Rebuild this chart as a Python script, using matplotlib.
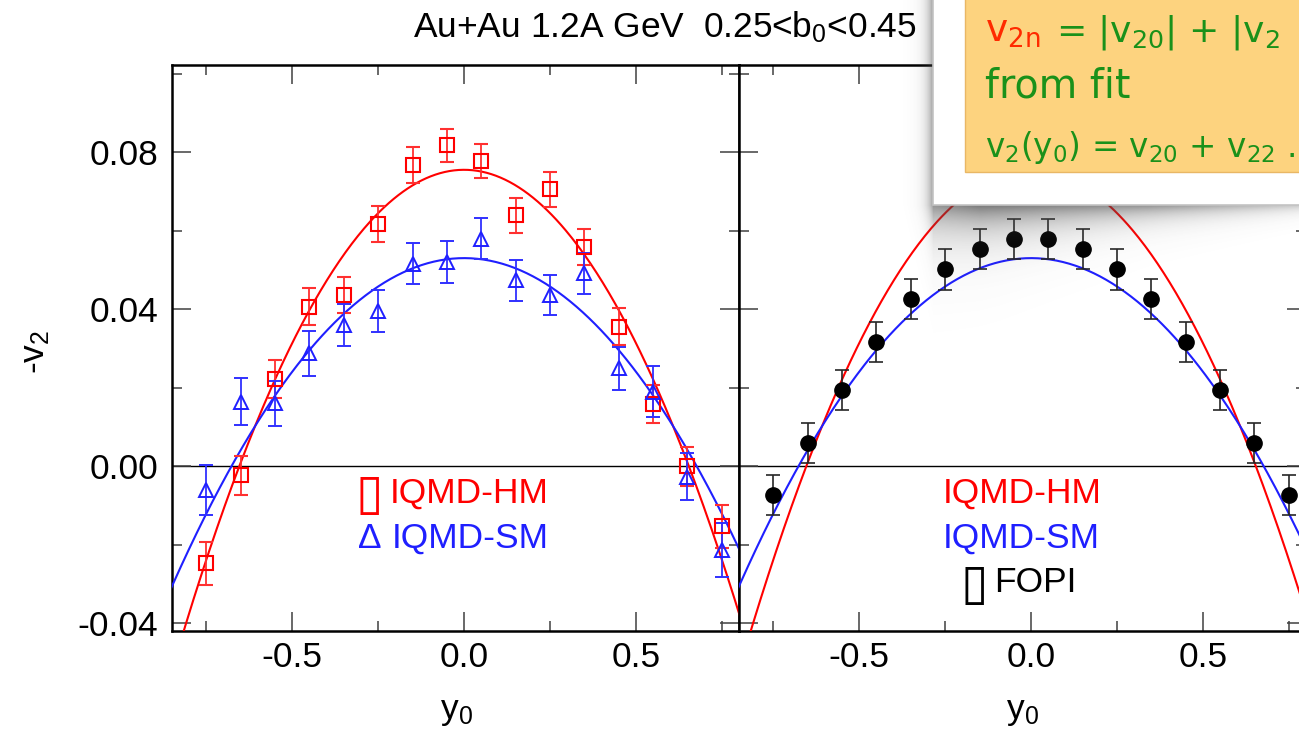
import numpy as np
import matplotlib
matplotlib.use("Agg")
from matplotlib import pyplot as plt
from matplotlib.patches import Rectangle
from matplotlib.ticker import FixedLocator

plt.rcParams['font.family'] = ['Liberation Sans', 'DejaVu Sans']
plt.rcParams['mathtext.default'] = 'regular'

# rapidity bins (y0) and -v2 values
y0 = [-0.75, -0.65, -0.55, -0.45, -0.35, -0.25, -0.15, -0.05,
      0.05, 0.15, 0.25, 0.35, 0.45, 0.55, 0.65, 0.75]

hm_v2 = [-0.0248, -0.0023, 0.0222, 0.0406, 0.0436, 0.0617, 0.0767, 0.0817,
         0.0777, 0.0639, 0.0705, 0.0558, 0.0355, 0.0158, 0.0000, -0.0153]
hm_err = [0.0055, 0.0050, 0.0048, 0.0047, 0.0046, 0.0045, 0.0045, 0.0043,
          0.0044, 0.0045, 0.0045, 0.0046, 0.0047, 0.0048, 0.0050, 0.0055]

sm_v2 = [-0.0061, 0.0164, 0.0160, 0.0287, 0.0359, 0.0396, 0.0516, 0.0520,
         0.0579, 0.0474, 0.0436, 0.0491, 0.0249, 0.0189, -0.0027, -0.0214]
sm_err = [0.0064, 0.0060, 0.0058, 0.0057, 0.0054, 0.0053, 0.0053, 0.0053,
          0.0052, 0.0052, 0.0051, 0.0052, 0.0055, 0.0065, 0.0060, 0.0068]

fopi_v2 = [-0.0074, 0.0060, 0.0194, 0.0317, 0.0426, 0.0501, 0.0552, 0.0579,
           0.0579, 0.0552, 0.0501, 0.0426, 0.0317, 0.0194, 0.0060, -0.0074]
fopi_err = [0.0051] * 16

# fit coefficients: v2(y0) = v20 + v22 * y0^2
hm_fit = [0.0755, -0.1765]
sm_fit = [0.0530, -0.1157]

y_major = [-0.04, 0.00, 0.04, 0.08]
y_minor = [-0.02, 0.02, 0.06, 0.10]
x_major = [-0.5, 0.0, 0.5]
x_minor = [-0.75, -0.25, 0.25, 0.75]

RED = '#ff0000'
BLUE = '#1f1fff'
GREEN = '#1a911a'
FS = 25.5

W, H = 1299, 736
fig = plt.figure(figsize=(W / 100, H / 100), dpi=100)


def px(x, y):
    return x / W, 1 - y / H


ax_l = fig.add_axes([172 / W, (H - 631) / H, 567 / W, 566 / H])
ax_r = fig.add_axes([739 / W, (H - 631) / H, 567 / W, 566 / H])

yy = np.linspace(-0.9, 0.9, 400)
for ax in (ax_l, ax_r):
    ax.set_xlim(-0.85, 0.80)
    ax.set_ylim(-0.0420, 0.1022)
    ax.axhline(0, color='black', lw=1.0, zorder=1)
    ax.plot(yy, hm_fit[0] + hm_fit[1] * yy ** 2, color=RED, lw=1.5, zorder=3)
    ax.plot(yy, sm_fit[0] + sm_fit[1] * yy ** 2, color=BLUE, lw=1.5, zorder=3)

    ax.set_xticks(x_major)
    ax.set_xticklabels(['%.1f' % v for v in x_major])
    ax.xaxis.set_minor_locator(FixedLocator(x_minor))
    ax.set_yticks(y_major)
    ax.set_yticklabels(['%.2f' % v for v in y_major])
    ax.yaxis.set_minor_locator(FixedLocator(y_minor))
    ax.tick_params(which='both', direction='in', top=True, right=True,
                   color='0.25', width=1.1, labelsize=FS)
    ax.tick_params(which='major', length=13.5)
    ax.tick_params(which='minor', length=7)
    ax.tick_params(axis='x', pad=7)
    ax.tick_params(axis='y', pad=10)
    for s in ax.spines.values():
        s.set_linewidth(1.8)

ax_r.tick_params(labelleft=False)

# IQMD points
ax_l.errorbar(y0, hm_v2, yerr=hm_err, fmt='s', ms=9.5, mfc='none', mec=RED,
              mew=1.5, ecolor='#ff3030', elinewidth=1.3, capsize=5,
              capthick=1.3, zorder=4)
ax_l.errorbar(y0, sm_v2, yerr=sm_err, fmt='^', ms=10.5, mfc='none', mec=BLUE,
              mew=1.4, ecolor='#3030ff', elinewidth=1.3, capsize=5,
              capthick=1.3, zorder=4)

# FOPI data
ax_r.errorbar(y0, fopi_v2, yerr=fopi_err, fmt='o', ms=11, mfc='black',
              mec='black', ecolor='0.15', elinewidth=1.2, capsize=5,
              capthick=1.2, zorder=4)

# labels
fig.text(*px(413, 27), 'Au+Au 1.2A GeV  0.25<b$_0$<0.45', fontsize=FS,
         ha='left', va='center')
fig.text(*px(35, 352), '-v$_2$', fontsize=FS, rotation=90,
         ha='center', va='center')
fig.text(*px(456, 712), 'y$_0$', fontsize=FS, ha='center', va='center')
fig.text(*px(1022, 712), 'y$_0$', fontsize=FS, ha='center', va='center')

box_kw = dict(fontsize=36, family='DejaVu Sans', ha='center', va='center')
fig.text(*px(369, 495), '\u25af', color=RED, **box_kw)
fig.text(*px(390, 493), 'IQMD-HM', fontsize=FS, color=RED,
         ha='left', va='center')
fig.text(*px(358, 538), '\u0394', fontsize=FS, color=BLUE,
         ha='left', va='center')
fig.text(*px(392, 538), 'IQMD-SM', fontsize=FS, color=BLUE,
         ha='left', va='center')
fig.text(*px(943, 493), 'IQMD-HM', fontsize=FS, color=RED,
         ha='left', va='center')
fig.text(*px(943, 538), 'IQMD-SM', fontsize=FS, color=BLUE,
         ha='left', va='center')
fig.text(*px(974, 585), '\u25af', color='black', **box_kw)
fig.text(*px(994, 583), 'FOPI', fontsize=FS, color='black',
         ha='left', va='center')

# drop shadow under the note card
gy, gx = np.mgrid[0:H, 0:W]
dx = np.clip(933 - gx, 0, None)
dy = np.clip(gy - 205, 0, None)
amp = np.interp(gx, [935, 980, 1150, 1299], [0.6, 0.75, 0.6, 0.3])
depth = np.interp(gx, [920, 1000, 1150, 1299], [26, 22, 12, 6])
shade = amp * np.exp(-dy / depth) * np.exp(-dx / 6.0)
shade[gx < 880] = 0
rgba = np.zeros((H, W, 4))
rgba[..., :3] = 0.3
rgba[..., 3] = shade
fig.figimage(rgba, xo=0, yo=0, origin='upper', zorder=5)

# note card
x0, y1 = px(933, 205)
fig.patches.append(Rectangle((x0, y1), 1.1 - x0, 1.1 - y1, transform=fig.transFigure,
                             facecolor='white', edgecolor='#c4c4c4', lw=1.2,
                             zorder=6))
x0, y1 = px(965, 172)
fig.patches.append(Rectangle((x0, y1), 1.1 - x0, 1.1 - y1, transform=fig.transFigure,
                             facecolor='#fdd37f', edgecolor='#e9b765', lw=1.0,
                             zorder=7))

note_kw = dict(family='DejaVu Sans', ha='left', va='baseline', zorder=8)
fig.text(*px(985, 42), 'v$_{2n}$', color='#ff2a00', fontsize=27, **note_kw)
fig.text(*px(1056, 42), '= |v$_{20}$| + |v$_2$', color=GREEN, fontsize=26,
         **note_kw)
fig.text(*px(985, 97), 'from fit', color=GREEN, fontsize=28.5, **note_kw)
fig.text(*px(985, 157), 'v$_2$(y$_0$) = v$_{20}$ + v$_{22}$ .', color=GREEN,
         fontsize=23.5, **note_kw)

fig.savefig('out.png', dpi=100)
